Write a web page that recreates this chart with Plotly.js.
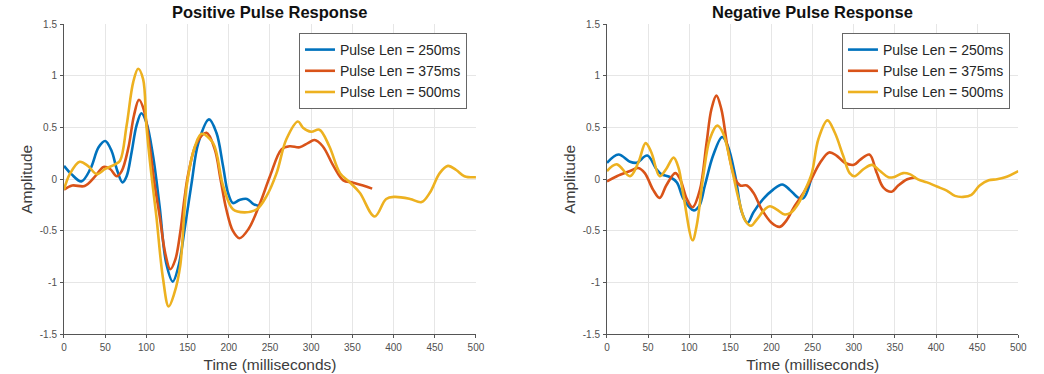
<!DOCTYPE html>
<html>
<head>
<meta charset="utf-8">
<script src="https://cdn.plot.ly/plotly-3.0.1.min.js"></script>
<style>
  html, body { margin: 0; padding: 0; background: #ffffff; }
  #chart { width: 1044px; height: 374px; }
</style>
</head>
<body>
<div id="chart"></div>
<script>
// Pulse lengths (legend labels)
const seriesNames = ['Pulse Len = 250ms', 'Pulse Len = 375ms', 'Pulse Len = 500ms'];
const seriesColors = ['#0072BD', '#D95319', '#EDB120'];

// Positive pulse response: time (ms) and amplitude
const posT250 = [0,9,21,32,42,50,58,64,71,76,82,88,94,100,108,116,124,132,139,147,155,163,176,185,193,199,205,213,222,230,238];
const posA250 = [0.13,0.05,-0.02,0.1,0.31,0.37,0.27,0.1,-0.03,0.03,0.26,0.52,0.64,0.55,0.23,-0.26,-0.81,-0.99,-0.84,-0.45,-0.03,0.35,0.58,0.45,0.13,-0.13,-0.23,-0.2,-0.19,-0.24,-0.26];

const posT375 = [0,10,25,38,48,56,64,70,78,85,91,97,104,110,116,123,129,135,141,146,151,161,173,183,190,197,205,213,224,238,250,264,274,286,296,304,314,327,339,350,363,374];
const posA375 = [-0.1,-0.06,-0.065,0.03,0.12,0.1,0.03,0.08,0.3,0.62,0.77,0.67,0.32,-0.05,-0.35,-0.72,-0.87,-0.78,-0.52,-0.2,0.06,0.35,0.45,0.29,0.0,-0.29,-0.5,-0.57,-0.48,-0.23,0.03,0.29,0.32,0.31,0.35,0.38,0.32,0.13,-0.01,-0.03,-0.06,-0.09];

const posT500 = [0,7,19,29,40,50,62,68,76,84,90,96,100,106,112,120,127,134,141,149,159,167,181,193,205,219,234,246,258,270,284,290,300,310,322,335,347,359,377,391,401,420,434,444,456,466,476,486,500];
const posA500 = [-0.1,0.05,0.17,0.13,0.05,0.1,0.145,0.18,0.52,0.94,1.07,0.97,0.52,0.05,-0.35,-0.95,-1.23,-1.1,-0.84,-0.06,0.32,0.44,0.35,-0.06,-0.29,-0.32,-0.29,-0.16,0.06,0.39,0.56,0.5,0.46,0.48,0.32,0.06,-0.03,-0.13,-0.36,-0.19,-0.17,-0.19,-0.22,-0.13,0.06,0.13,0.09,0.03,0.02];

// Negative pulse response: time (ms) and amplitude
const negT250 = [0,14,28,36,49,60,66,77,85,93,105,112,119,129,140,147,156,164,171,178,190,202,213,222,233,239,249];
const negA250 = [0.16,0.24,0.17,0.16,0.23,0.1,0.05,0.02,-0.03,-0.19,-0.3,-0.26,-0.06,0.23,0.41,0.32,0.03,-0.32,-0.42,-0.32,-0.19,-0.1,-0.05,-0.1,-0.18,-0.18,0.03];

const negT375 = [0,12,28,38,46,56,64,72,83,89,97,104,113,121,127,133,139,147,156,162,170,178,188,200,210,218,228,239,247,259,270,279,289,300,308,319,328,336,346,354,365,375];
const negA375 = [-0.02,0.03,0.08,0.11,0.06,-0.1,-0.18,-0.06,0.06,0,-0.19,-0.27,-0.1,0.35,0.68,0.81,0.68,0.29,0,-0.06,-0.06,-0.13,-0.29,-0.42,-0.46,-0.4,-0.26,-0.13,-0.02,0.16,0.26,0.23,0.16,0.14,0.19,0.24,0.06,-0.08,-0.12,-0.06,0,0.02];

const negT500 = [0,12,28,38,47,54,64,72,81,87,93,104,109,117,125,134,141,151,160,168,175,182,192,198,206,216,224,233,241,249,257,268,277,287,295,301,312,322,332,342,348,360,368,378,389,401,413,423,433,443,453,464,474,484,500];
const negA500 = [0.08,0.145,0.03,0.16,0.35,0.26,0.03,0.1,0.21,0.11,-0.16,-0.59,-0.45,0.03,0.39,0.52,0.45,0.13,-0.19,-0.4,-0.45,-0.39,-0.29,-0.26,-0.29,-0.34,-0.32,-0.23,-0.1,0.06,0.39,0.57,0.45,0.23,0.06,0.03,0.1,0.14,0.08,0.02,0.02,0.06,0.05,0,-0.03,-0.07,-0.11,-0.16,-0.17,-0.15,-0.06,-0.01,0,0.02,0.08];

// Axis ticks
const xTickVals = [0,50,100,150,200,250,300,350,400,450,500];
const xTickText = ['0','50','100','150','200','250','300','350','400','450','500'];
const yTickVals = [-1.5,-1,-0.5,0,0.5,1,1.5];
const yTickText = ['-1.5','-1','-0.5','0','0.5','1','1.5'];

const posSeries = [[posT250, posA250], [posT375, posA375], [posT500, posA500]];
const negSeries = [[negT250, negA250], [negT375, negA375], [negT500, negA500]];

const traces = [];
function addTraces(series, xa, ya, legendId) {
  series.forEach(([t, a], i) => {
    traces.push({
      x: t, y: a, type: 'scatter', mode: 'lines',
      name: seriesNames[i],
      xaxis: xa, yaxis: ya, legend: legendId,
      line: { color: seriesColors[i], width: 2.6, shape: 'spline', smoothing: 1 },
      hoverinfo: 'skip'
    });
  });
}
addTraces(posSeries, 'x', 'y', 'legend');
addTraces(negSeries, 'x2', 'y2', 'legend2');

const tickFont = { family: 'Liberation Sans, Arial, sans-serif', size: 10, color: '#505050' };
const titleFont = { family: 'Liberation Sans, Arial, sans-serif', size: 15.5, color: '#3c3c3c' };

function xAxis(domain, anchor) {
  return {
    domain: domain, anchor: anchor, range: [0, 500],
    tickmode: 'array', tickvals: xTickVals, ticktext: xTickText,
    ticks: 'outside', ticklen: 3, tickcolor: '#555', tickwidth: 1,
    showline: true, linecolor: '#555', linewidth: 1,
    showgrid: true, gridcolor: '#e6e6e6', gridwidth: 1,
    zeroline: false, tickfont: tickFont, ticklabelstandoff: 1,
    title: { text: 'Time (milliseconds)', font: titleFont, standoff: 6 }
  };
}
function yAxis(anchor) {
  return {
    domain: [0.1061, 0.935], anchor: anchor, range: [-1.5, 1.5],
    tickmode: 'array', tickvals: yTickVals, ticktext: yTickText,
    ticks: 'outside', ticklen: 3, tickcolor: '#555', tickwidth: 1,
    showline: true, linecolor: '#555', linewidth: 1,
    showgrid: true, gridcolor: '#e6e6e6', gridwidth: 1,
    zeroline: false, tickfont: tickFont, ticklabelstandoff: 1,
    title: { text: 'Amplitude', font: titleFont, standoff: 3 }
  };
}
function legendAt(xRight) {
  return {
    x: xRight, xanchor: 'right', y: 0.9118, yanchor: 'top',
    bgcolor: '#ffffff', bordercolor: '#666666', borderwidth: 1,
    font: { family: 'Liberation Sans, Arial, sans-serif', size: 14, color: '#262626' },
    itemwidth: 30, tracegroupgap: 0
  };
}

const headFont = { family: 'Liberation Sans, Arial, sans-serif', size: 16.5, color: '#111111' };

const layout = {
  width: 1044, height: 374,
  margin: { l: 0, r: 0, t: 0, b: 0 },
  paper_bgcolor: '#ffffff', plot_bgcolor: '#ffffff',
  showlegend: true,
  xaxis: xAxis([0.0613, 0.4559], 'y'),
  yaxis: yAxis('x'),
  xaxis2: xAxis([0.5814, 0.9754], 'y2'),
  yaxis2: yAxis('x2'),
  legend: legendAt(0.4473),
  legend2: legendAt(0.9674),
  annotations: [
    { text: '<b>Positive Pulse Response</b>', xref: 'paper', yref: 'paper',
      x: 0.2586, y: 0.967, xanchor: 'center', yanchor: 'middle', showarrow: false, font: headFont },
    { text: '<b>Negative Pulse Response</b>', xref: 'paper', yref: 'paper',
      x: 0.7784, y: 0.967, xanchor: 'center', yanchor: 'middle', showarrow: false, font: headFont }
  ]
};

Plotly.newPlot('chart', traces, layout, { staticPlot: true, displayModeBar: false });
</script>
</body>
</html>
